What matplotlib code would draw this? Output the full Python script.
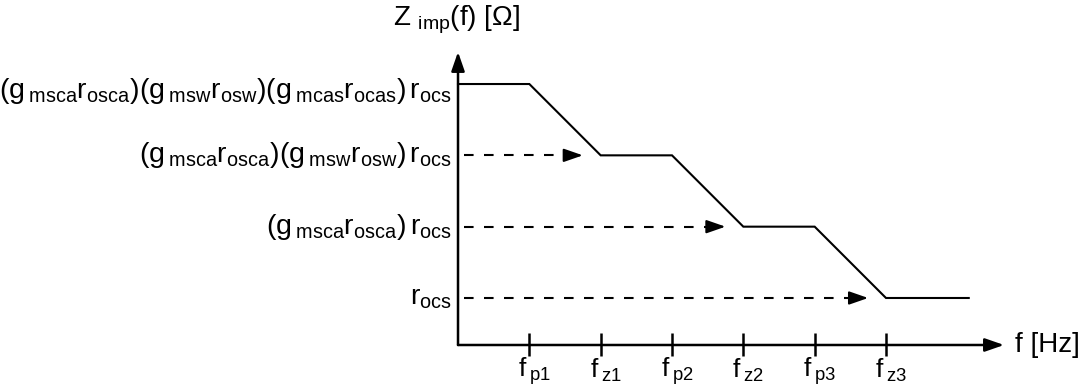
import matplotlib
matplotlib.use("Agg")
import matplotlib.pyplot as plt

plt.rcParams['font.family'] = ['Liberation Sans', 'DejaVu Sans']
plt.rcParams['mathtext.fontset'] = 'custom'
plt.rcParams['mathtext.rm'] = 'Liberation Sans'
plt.rcParams['mathtext.it'] = 'Liberation Sans'

# corner frequencies along the f axis (pole/zero order)
freq_names = ['p1', 'z1', 'p2', 'z2', 'p3', 'z3']
freq_pos = [1, 2, 3, 4, 5, 6]

# asymptotic |Z_imp| in decades of intrinsic gain above r_ocs
curve_f = [0, 1, 2, 3, 4, 5, 6, 7.16]
curve_z = [3, 3, 2, 2, 1, 1, 0, 0]

# gain stages stacked on top of r_ocs
stages = [('msca', 'osca'), ('msw', 'osw'), ('mcas', 'ocas')]
level_z = [3, 2, 1, 0]


def level_label(n):
    s = ''
    for gm, ro in stages[:n]:
        s += r'(\mathrm{g}\,_{\mathrm{%s}}\mathrm{r}_{\mathrm{%s}})' % (gm, ro)
    if n:
        s += r'\,'
    s += r'\mathrm{r}_{\mathrm{ocs}}'
    return '$' + s + '$'


fig = plt.figure(figsize=(10.91, 3.90), dpi=100)
ax = fig.add_axes([0, 0, 1, 1])
ax.set_xlim(-6.421, 8.874)
ax.set_ylim(-1.290, 4.178)
ax.axis('off')

axis_y = -0.659
lw = 1.5

# axes with arrow heads
head = dict(arrowstyle='-|>,head_length=11.5,head_width=4', mutation_scale=1,
            color='black', lw=1.8, shrinkA=0, shrinkB=0)
ax.annotate('', xy=(0, 3.45), xytext=(0, axis_y), arrowprops=head)
ax.annotate('', xy=(7.655, axis_y), xytext=(0, axis_y), arrowprops=head)

# tick marks and labels
for name, x in zip(freq_names, freq_pos):
    ax.plot([x, x], [axis_y - 0.155, axis_y + 0.17], color='black', lw=1.8,
            solid_capstyle='butt')
    ax.text(x + 0.07, -1.02, r'$\mathrm{f}\,_{\mathrm{%s}}$' % name,
            fontsize=19, ha='center', va='center')

ax.text(7.81, axis_y, 'f [Hz]', fontsize=20, ha='left', va='center')
ax.text(-0.911, 3.90, r'$\mathrm{Z}\ _{\mathrm{imp}}$(f) [Ω]', fontsize=20,
        ha='left', va='center')

# impedance curve
ax.plot(curve_f, curve_z, color='black', lw=lw, solid_joinstyle='miter')

# level labels
for i, z in enumerate(level_z):
    n = len(stages) - i
    dy = -0.1 if n == 3 else 0.0
    ax.text(-0.084, z + dy, level_label(n), fontsize=20.5, ha='right', va='center')

# dashed arrows pointing to each zero
small_head = dict(arrowstyle='-|>,head_length=11.5,head_width=4', mutation_scale=1,
                  color='black', lw=lw, shrinkA=0, shrinkB=0)
for z, fz in zip(level_z[1:], freq_pos[1::2]):
    tip = fz - 0.25
    ax.plot([0.08, tip - 0.2], [z, z], color='black', lw=lw,
            linestyle=(0, (4.6, 5.0)))
    ax.annotate('', xy=(tip, z), xytext=(tip - 0.22, z), arrowprops=small_head)

fig.savefig('out.png', dpi=100)
